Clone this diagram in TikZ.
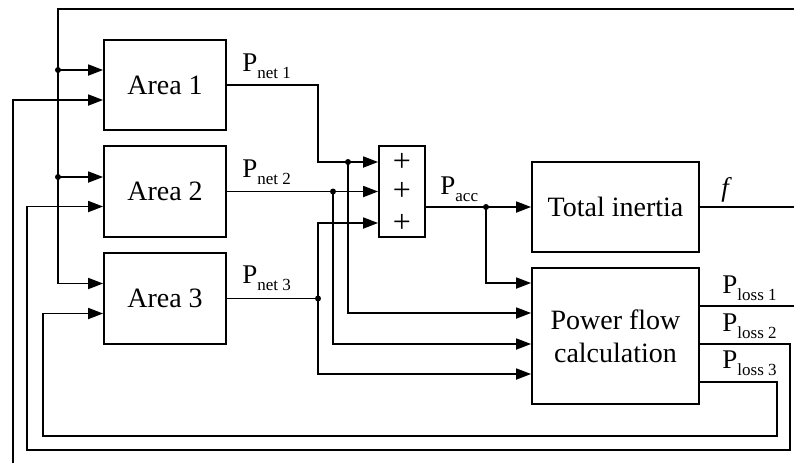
\documentclass[tikz,border=0pt]{standalone}
\usepackage{fontspec}
\setmainfont{Liberation Serif}
\usetikzlibrary{arrows.meta,positioning,calc}
\newcommand{\Psub}[1]{P\raisebox{-3.5pt}{\fontsize{8.5}{8.5}\selectfont #1}}

\begin{document}
\begin{tikzpicture}[
    x=0.5pt,y=-0.5pt,
    block/.style={rectangle,draw,line width=0.9pt,inner sep=0pt,align=center,font=\fontsize{14}{16.5}\selectfont},
    sig/.style={inner sep=0pt,anchor=base west,font=\fontsize{13.5}{15}\selectfont},
    plus/.style={inner sep=0pt,font=\fontsize{16}{16}\selectfont},
    wire/.style={line width=0.9pt},
    arrow/.style={wire,-{Triangle[length=7.5pt,width=5.5pt]}},
    junc/.style={fill,circle,inner sep=0pt,minimum size=2.8pt}
]
\useasboundingbox (0,0) rectangle (794,463);

% blocks
\node[block,minimum width=61pt,minimum height=45pt] (area1) at (165,85) {Area 1};
\node[block,minimum width=61pt,minimum height=45.5pt] (area2) at (165,191.5) {Area 2};
\node[block,minimum width=61pt,minimum height=45.5pt] (area3) at (165,298.5) {Area 3};
\node[block,minimum width=23pt,minimum height=45.5pt] (sum) at (402,191.5) {};
\node[block,minimum width=83.5pt,minimum height=45pt] (inertia) at (615.5,207) {Total inertia};
\node[block,minimum width=83.5pt,minimum height=68pt] (pf) at (615.5,336) {Power flow\\calculation};

\node[plus] (s1) at (402,162) {+};
\node[plus] (s2) at (402,191.5) {+};
\node[plus] (s3) at (402,223) {+};

% frequency feedback
\coordinate (top) at (794,9);
\coordinate (b1) at (58,70);
\coordinate (b2) at (58,177);
\coordinate (b3) at (58,283.5);
\draw[arrow] (top) -| (b3) -- (b3 -| area3.west);
\draw[arrow] (b1) -- (b1 -| area1.west);
\draw[arrow] (b2) -- (b2 -| area2.west);

% loss feedback
\coordinate (fin) at (13,463);
\draw[arrow] (fin) |- ([yshift=-7.5pt]area1.west);
\coordinate (l1) at ([yshift=15pt]pf.east);
\coordinate (l2) at ([yshift=-4pt]pf.east);
\coordinate (l3) at ([yshift=-23pt]pf.east);
\coordinate (out1) at (794,306);
\draw[wire] (l1) -- (out1);
\draw[arrow] (l2) -- ++(90,0) |- (27,450) |- ([yshift=-7.5pt]area2.west);
\draw[arrow] (l3) -- ++(77,0) |- (43,436) |- ([yshift=-7.5pt]area3.west);

% net powers
\coordinate (c1) at (318,162);
\coordinate (j1) at (348,162);
\coordinate (j2) at (333,191.5);
\coordinate (j3) at (318,298.5);
\draw[arrow] (area1.east) -| (c1) -- (s1 -| sum.west);
\draw[arrow] (area2.east) -- (s2 -| sum.west);
\draw[wire] (area3.east) -- (j3);
\draw[arrow] (j3) |- (s3 -| sum.west);
\draw[arrow] (j1) |- ([yshift=11.5pt]pf.west);
\draw[arrow] (j2) |- ([yshift=-4pt]pf.west);
\draw[arrow] (j3) |- ([yshift=-19pt]pf.west);

% accelerating power and frequency
\coordinate (ja) at (486,207);
\draw[arrow] (sum.east |- inertia.west) -- (inertia.west);
\draw[arrow] (ja) |- ([yshift=26.5pt]pf.west);
\draw[wire] (inertia.east) -- (inertia.east -| top);

\foreach \j in {b1,b2,j1,j2,j3,ja}
    \fill (\j) circle (1.5pt);

% labels
\node[sig] (pnet1) at (242,71) {\Psub{net 1}};
\node[sig] (pnet2) at (242,177) {\Psub{net 2}};
\node[sig] (pnet3) at (242,283) {\Psub{net 3}};
\node[sig] (pacc) at (440,194) {\Psub{acc}};
\node[sig] (fout) at (721,196) {\textit{f}};
\node[sig] (ploss1) at (722,293) {\Psub{loss 1}};
\node[sig] (ploss2) at (722,331) {\Psub{loss 2}};
\node[sig] (ploss3) at (722,368) {\Psub{loss 3}};
\end{tikzpicture}
\end{document}
